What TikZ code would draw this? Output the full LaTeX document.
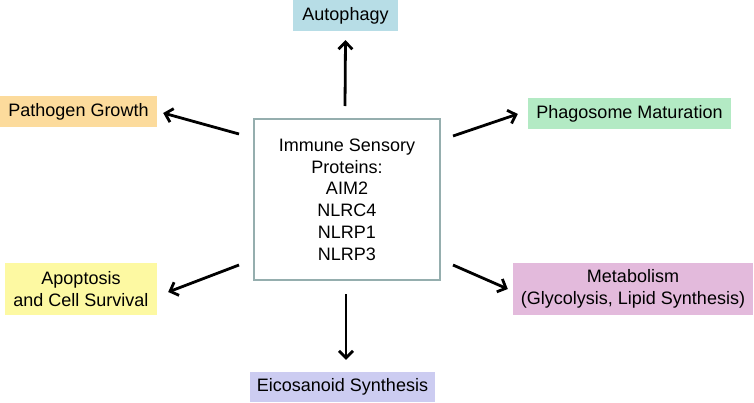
\documentclass[tikz,border=0pt]{standalone}
\usepackage{fontspec}
\setmainfont{Liberation Sans}
\usetikzlibrary{arrows.meta, positioning}
\definecolor{autoblue}{HTML}{B7DDE6}
\definecolor{pathorange}{HTML}{FCDB9C}
\definecolor{phagogreen}{HTML}{B3EAC4}
\definecolor{apopyellow}{HTML}{FDF9A2}
\definecolor{metabpink}{HTML}{E3BADC}
\definecolor{eicolilac}{HTML}{CCCCF1}
\definecolor{boxgray}{HTML}{95AEAE}
\tikzset{%
	effect/.style={
		fill=#1,
		draw=none,
		inner sep=0pt,
		minimum height=31pt,
		align=center,
		font=\fontsize{18}{21.5}\selectfont
	},
	effect arrow/.style={
		line width=2.8pt,
		-{Straight Barb[length=7pt,width=14pt]}
	},
}
\begin{document}
\begin{tikzpicture}[x=1pt, y=-1pt]
	\useasboundingbox (0,0) rectangle (754,402);

	% Central box
	\node (sensor) [draw=boxgray, line width=2pt, minimum width=186pt, minimum height=161pt,
		inner sep=0pt, align=center, font=\fontsize{18}{21.8}\selectfont]
		at (347,199.5) {Immune Sensory\\Proteins:\\AIM2\\NLRC4\\NLRP1\\NLRP3};

	% Effects
	\node (auto) [effect=autoblue, minimum width=105pt] at (345.5,15.5) {Autophagy};
	\node (path) [effect=pathorange, minimum width=157pt] at (78.5,111.5) {Pathogen Growth};
	\node (phago) [effect=phagogreen, minimum width=203pt] at (629.5,113.5) {Phagosome Maturation};
	\node (apop) [effect=apopyellow, minimum width=152pt, minimum height=52pt] at (81,289) {Apoptosis\\and Cell Survival};
	\node (metab) [effect=metabpink, minimum width=240pt, minimum height=52pt] at (633,289) {Metabolism\\(Glycolysis, Lipid Synthesis)};
	\node (eico) [effect=eicolilac, minimum width=185pt, minimum height=30pt] at (342.5,387) {Eicosanoid Synthesis};

	% Arrows
	\draw[effect arrow] ([shift={(-2,-12)}]sensor.north) -- ([shift={(0,9)}]auto.south);
	\draw[effect arrow] ([shift={(-14,16)}]sensor.north west) -- ([shift={(6,1.5)}]path.east);
	\draw[effect arrow] ([shift={(12,18)}]sensor.north east) -- ([shift={(-10,0.5)}]phago.west);
	\draw[effect arrow] ([shift={(-14,-16)}]sensor.south west) -- ([shift={(11,3)}]apop.east);
	\draw[effect arrow] ([shift={(12,-16)}]sensor.south east) -- ([shift={(-5,0)}]metab.west);
	\draw[effect arrow] ([shift={(-1,13)}]sensor.south) -- ([shift={(3.5,-12)}]eico.north);

\end{tikzpicture}
\end{document}
